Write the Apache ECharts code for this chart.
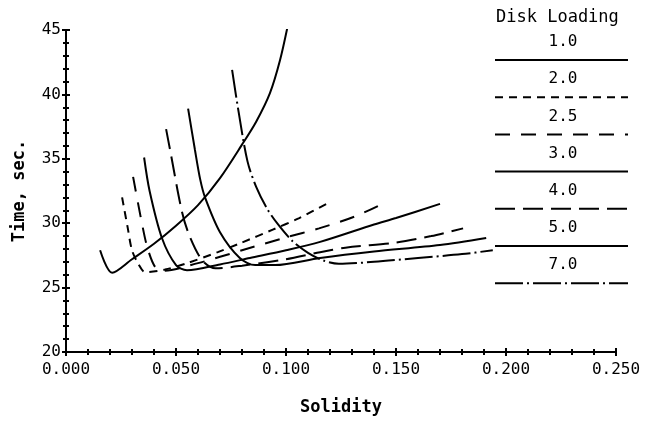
<!DOCTYPE html>
<html>
<head>
<meta charset="utf-8">
<script src="https://cdn.jsdelivr.net/npm/echarts@6/dist/echarts.min.js"></script>
<style>html,body{margin:0;padding:0;background:#fff}#c{width:648px;height:422px}</style>
</head>
<body>
<div id="c"></div>
<script>
// ---- data ----
const loadings = ['1.0', '2.0', '2.5', '3.0', '4.0', '5.0', '7.0'];
const xTicks = [0, 0.05, 0.1, 0.15, 0.2, 0.25];
const yTicks = [20, 25, 30, 35, 40, 45];

const sol10 = [0.0155, 0.021, 0.03, 0.04, 0.05, 0.06, 0.07, 0.08, 0.0865, 0.0927, 0.0973, 0.101];
const time10 = [27.9, 26.15, 27.2, 28.4, 29.8, 31.4, 33.5, 36.1, 37.9, 40.1, 42.67, 45.5];

const sol20 = [0.0255, 0.028, 0.030, 0.033, 0.036, 0.045, 0.055, 0.069, 0.080, 0.094, 0.106, 0.120];
const time20 = [32.0, 29.7, 27.9, 26.8, 26.2, 26.4, 26.9, 27.75, 28.5, 29.5, 30.4, 31.65];

const sol25 = [0.0305, 0.0345, 0.037, 0.0405, 0.044, 0.06, 0.08, 0.1, 0.115, 0.131, 0.145];
const time25 = [33.6, 30.0, 28.1, 26.6, 26.3, 26.9, 27.9, 28.9, 29.6, 30.5, 31.6];

const sol30 = [0.0355, 0.038, 0.0436, 0.05, 0.055, 0.07, 0.0836, 0.1, 0.1155, 0.14, 0.15, 0.17];
const time30 = [35.1, 32.5, 28.85, 26.75, 26.35, 26.8, 27.3, 27.9, 28.55, 29.9, 30.4, 31.5];

const sol40 = [0.0455, 0.0473, 0.0527, 0.0564, 0.062, 0.068, 0.08, 0.1, 0.1155, 0.127, 0.15, 0.166, 0.1805];
const time40 = [37.3, 35.7, 30.9, 28.9, 27.1, 26.5, 26.7, 27.2, 27.75, 28.1, 28.5, 29.0, 29.6];

const sol50 = [0.0555, 0.0586, 0.061, 0.0632, 0.07, 0.079, 0.086, 0.095, 0.1155, 0.14, 0.17, 0.191];
const time50 = [38.9, 35.7, 33.4, 32.0, 29.3, 27.3, 26.75, 26.75, 27.3, 27.8, 28.3, 28.85];

const sol70 = [0.0755, 0.0785, 0.0825, 0.0865, 0.0915, 0.0964, 0.103, 0.110, 0.117, 0.124, 0.14, 0.16, 0.18, 0.194];
const time70 = [41.9, 38.6, 34.8, 32.8, 31.1, 29.9, 28.6, 27.7, 27.1, 26.85, 27.0, 27.3, 27.6, 27.9];

// ---- styles ----
const solidities = [sol10, sol20, sol25, sol30, sol40, sol50, sol70];
const times = [time10, time20, time25, time30, time40, time50, time70];
const dashes = ['solid', [8, 6], [15, 11], 'solid', [20, 8], 'solid', [28, 4, 2, 4]];
const MONO = '"DejaVu Sans Mono", "Liberation Mono", monospace';

const chart = echarts.init(document.getElementById('c'), null, {renderer: 'canvas'});

const series = loadings.map((name, k) => ({
  name: name,
  type: 'line',
  xAxisIndex: 0,
  yAxisIndex: 0,
  showSymbol: false,
  smooth: 0.3,
  data: solidities[k].map((x, i) => [x, times[k][i]]),
  lineStyle: {color: '#000', width: 2, type: dashes[k]},
  itemStyle: {color: '#000'},
  z: 3
}));

// legend drawn as graphics, derived from loadings and dash styles
const legendGraphics = [{
  type: 'text', left: 496, top: 9,
  style: {text: 'Disk Loading', font: '17px ' + MONO, fill: '#000'}
}];
loadings.forEach((name, k) => {
  const yLab = 42 + 37.2 * k;
  const yLine = 60 + 37.2 * k;
  legendGraphics.push({
    type: 'text', x: 563, y: yLab,
    style: {text: name, font: '16px ' + MONO, fill: '#000', textAlign: 'center', textVerticalAlign: 'middle', align: 'center', verticalAlign: 'middle'}
  });
  legendGraphics.push({
    type: 'line',
    shape: {x1: 495, y1: yLine, x2: 628, y2: yLine},
    style: {stroke: '#000', lineWidth: 2, lineDash: dashes[k] === 'solid' ? null : dashes[k]}
  });
});

const axisCommon = {
  axisLine: {show: true, onZero: false, lineStyle: {color: '#000', width: 2}},
  splitLine: {show: false},
};

chart.setOption({
  animation: false,
  backgroundColor: '#fff',
  grid: {left: 66, right: 32, top: 30, bottom: 70, containLabel: false},
  xAxis: [{
    ...axisCommon,
    type: 'value', min: xTicks[0], max: xTicks[xTicks.length - 1], interval: 0.05,
    position: 'bottom',
    name: 'Solidity', nameLocation: 'middle', nameGap: 47,
    nameTextStyle: {color: '#000', fontFamily: MONO, fontWeight: 'bold', fontSize: 17},
    axisTick: {show: true, inside: false, length: 4, lineStyle: {color: '#000', width: 2}},
    minorTick: {show: true, splitNumber: 5, length: 3, lineStyle: {color: '#000', width: 2}},
    axisLabel: {color: '#000', fontFamily: MONO, fontSize: 16, margin: 10,
      formatter: v => v.toFixed(3)}
  }, {
    ...axisCommon,
    type: 'value', min: xTicks[0], max: xTicks[xTicks.length - 1], interval: 0.05,
    position: 'bottom',
    axisTick: {show: true, inside: true, length: 4, lineStyle: {color: '#000', width: 2}},
    minorTick: {show: true, splitNumber: 5, length: 3, lineStyle: {color: '#000', width: 2}},
    axisLabel: {show: false}
  }],
  yAxis: [{
    ...axisCommon,
    type: 'value', min: yTicks[0], max: yTicks[yTicks.length - 1], interval: 5,
    position: 'left',
    name: 'Time, sec.', nameLocation: 'middle', nameGap: 38, nameRotate: 90,
    nameTextStyle: {color: '#000', fontFamily: MONO, fontWeight: 'bold', fontSize: 17},
    axisTick: {show: true, inside: false, length: 4, lineStyle: {color: '#000', width: 2}},
    minorTick: {show: true, splitNumber: 5, length: 3, lineStyle: {color: '#000', width: 2}},
    axisLabel: {color: '#000', fontFamily: MONO, fontSize: 16, margin: 5}
  }, {
    ...axisCommon,
    type: 'value', min: yTicks[0], max: yTicks[yTicks.length - 1], interval: 5,
    position: 'left',
    axisTick: {show: true, inside: true, length: 4, lineStyle: {color: '#000', width: 2}},
    minorTick: {show: true, splitNumber: 5, length: 3, lineStyle: {color: '#000', width: 2}},
    axisLabel: {show: false}
  }],
  series: series,
  graphic: legendGraphics
});
</script>
</body>
</html>
